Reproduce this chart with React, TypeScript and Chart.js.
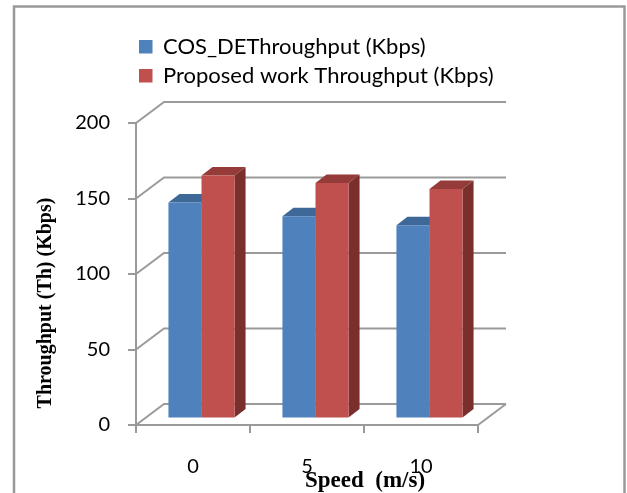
import React, { useEffect, useRef } from 'react';
import { Chart, registerables } from 'chart.js';

Chart.register(...registerables);

const categories = ['0', '5', '10'];
const cosDeThroughput = [143, 134, 128];
const proposedThroughput = [161, 156, 152];
const seriesLabels = ['COS_DEThroughput (Kbps)', 'Proposed work Throughput (Kbps)'];
const yTickValues = [0, 50, 100, 150, 200];
const yTitle = 'Throughput (Th) (Kbps)';
const xTitle = 'Speed  (m/s)';

const GRAY = '#9a9a9a';
const frontColors = ['#4F81BD', '#C0504D'];
const topColors = ['#3D6898', '#953C3A'];
const sideColors = ['#2F5282', '#7A2F2D'];

// 3D geometry offsets
const DX = 28, DY = -21; // wall depth
const BX = 8.5, BY = -6.5; // bar plane shift
const SX = 11, SY = -8.5; // bar depth

const threeD = {
  id: 'threeD',
  beforeDatasetsDraw(chart: any) {
    const { ctx, chartArea: a, scales } = chart;
    const y = scales.y;
    ctx.save();
    ctx.strokeStyle = GRAY;
    ctx.lineWidth = 2;
    for (const v of yTickValues) {
      const py = y.getPixelForValue(v);
      ctx.beginPath();
      ctx.moveTo(a.left, py);
      ctx.lineTo(a.left + DX, py + DY);
      ctx.lineTo(a.right + DX, py + DY);
      ctx.stroke();
    }
    ctx.beginPath();
    ctx.moveTo(a.right, a.bottom);
    ctx.lineTo(a.right + DX, a.bottom + DY);
    ctx.stroke();

    ctx.translate(BX, BY);
    chart.data.datasets.forEach((_ds: any, i: number) => {
      const meta = chart.getDatasetMeta(i);
      meta.data.forEach((bar: any) => {
        const p = bar.getProps(['x', 'y', 'width', 'base'], true);
        const l = p.x - p.width / 2;
        const r = p.x + p.width / 2;
        const top = p.y;
        const base = p.base;
        ctx.fillStyle = topColors[i];
        ctx.beginPath();
        ctx.moveTo(l, top);
        ctx.lineTo(r, top);
        ctx.lineTo(r + SX, top + SY);
        ctx.lineTo(l + SX, top + SY);
        ctx.closePath();
        ctx.fill();
        ctx.fillStyle = sideColors[i];
        ctx.beginPath();
        ctx.moveTo(r, top);
        ctx.lineTo(r + SX, top + SY);
        ctx.lineTo(r + SX, base + SY);
        ctx.lineTo(r, base);
        ctx.closePath();
        ctx.fill();
      });
    });
    ctx.restore();
    ctx.save();
    ctx.translate(BX, BY);
  },
  afterDatasetsDraw(chart: any) {
    chart.ctx.restore();
  },
  afterDraw(chart: any) {
    const { ctx } = chart;
    ctx.save();
    // frame
    ctx.strokeStyle = '#999999';
    ctx.lineWidth = 2.5;
    ctx.beginPath();
    ctx.moveTo(14, 493);
    ctx.lineTo(14, 6.5);
    ctx.lineTo(624.5, 6.5);
    ctx.lineTo(624.5, 493);
    ctx.stroke();

    // legend
    const rows = [46.5, 75.5];
    chart.data.datasets.forEach((ds: any, i: number) => {
      ctx.fillStyle = ds.backgroundColor;
      ctx.fillRect(139, rows[i] - 6.5, 13.5, 13.5);
      ctx.fillStyle = '#000';
      ctx.font = '22px Lato';
      ctx.textAlign = 'left';
      ctx.textBaseline = 'middle';
      ctx.fillText(ds.label, 163, rows[i]);
    });

    // y title
    ctx.save();
    ctx.translate(46, 303);
    ctx.rotate(-Math.PI / 2);
    ctx.font = 'bold 20px "Liberation Serif"';
    ctx.textAlign = 'center';
    ctx.textBaseline = 'middle';
    ctx.fillStyle = '#000';
    ctx.fillText(yTitle, 0, 0);
    ctx.restore();

    // x title
    ctx.font = 'bold 23px "Liberation Serif"';
    ctx.textAlign = 'left';
    ctx.textBaseline = 'alphabetic';
    ctx.fillStyle = '#000';
    ctx.fillText(xTitle, 305, 487);
    ctx.restore();
  },
};

export default function App() {
  const ref = useRef<HTMLCanvasElement>(null);
  useEffect(() => {
    if (!ref.current) return;
    const chart = new Chart(ref.current, {
      type: 'bar',
      data: {
        labels: categories,
        datasets: [
          {
            label: seriesLabels[0],
            data: cosDeThroughput,
            backgroundColor: frontColors[0],
            borderWidth: 0,
            clip: false as any,
          },
          {
            label: seriesLabels[1],
            data: proposedThroughput,
            backgroundColor: frontColors[1],
            borderWidth: 0,
            clip: false as any,
          },
        ],
      },
      options: {
        responsive: false,
        animation: false,
        devicePixelRatio: 1,
        layout: { padding: { left: 0, top: 123, right: 149, bottom: 0 } },
        plugins: {
          legend: { display: false },
          tooltip: { enabled: false },
          title: { display: false },
        },
        datasets: { bar: { categoryPercentage: 0.58, barPercentage: 1 } },
        scales: {
          x: {
            type: 'category',
            offset: true,
            afterFit: (s: any) => { s.height = 68; },
            grid: {
              offset: true,
              drawOnChartArea: false,
              drawTicks: true,
              tickLength: 8,
              color: GRAY,
              lineWidth: 2,
            },
            border: { display: true, color: GRAY, width: 2 },
            ticks: {
              font: { family: 'Lato', size: 20 },
              color: '#000',
              padding: 22,
              maxRotation: 0,
            },
          },
          y: {
            min: 0,
            max: 200,
            afterFit: (s: any) => { s.width = 136; },
            grid: {
              drawOnChartArea: false,
              drawTicks: true,
              tickLength: 8,
              color: GRAY,
              lineWidth: 2,
            },
            border: { display: true, color: GRAY, width: 2 },
            ticks: {
              stepSize: 50,
              font: { family: 'Lato', size: 20 },
              color: '#000',
              padding: 18,
            },
          },
        },
      },
      plugins: [threeD],
    } as any);
    return () => chart.destroy();
  }, []);
  return (
    <div style={{ position: 'fixed', left: 0, top: 0, width: 627, height: 493, background: '#fff', overflow: 'hidden' }}>
      <canvas ref={ref} width={627} height={493} style={{ display: 'block' }} />
    </div>
  );
}
